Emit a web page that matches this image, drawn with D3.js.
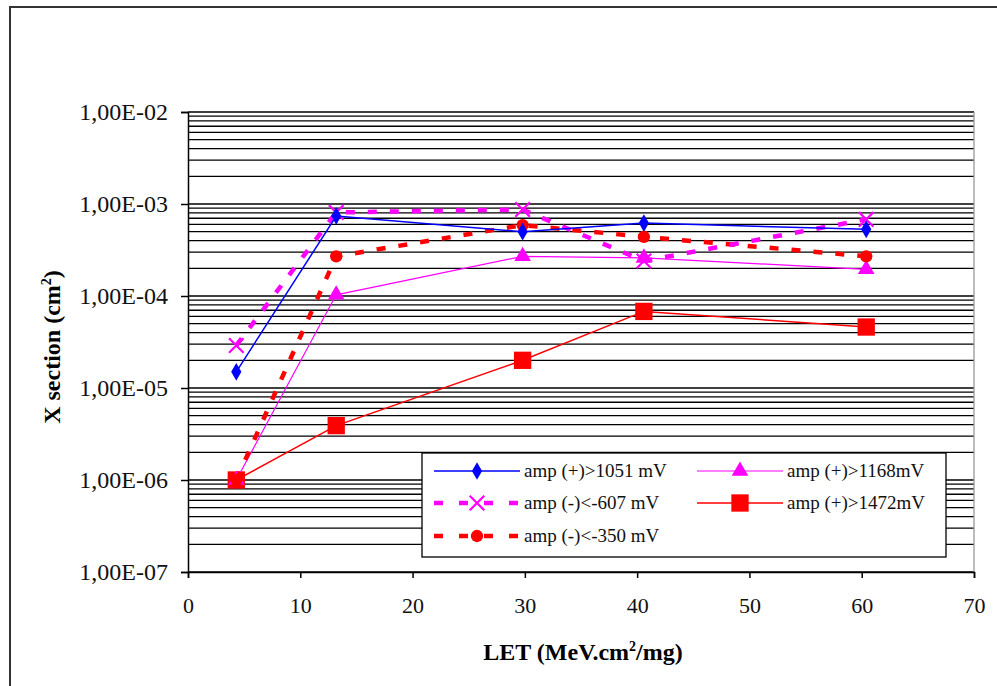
<!DOCTYPE html>
<html>
<head>
<meta charset="utf-8">
<script src="https://cdn.jsdelivr.net/npm/d3@7"></script>
<style>
  body { margin: 0; background: #fff; }
  svg text { font-family: "Liberation Serif", "Times New Roman", Times, "DejaVu Serif", serif !important; }
</style>
</head>
<body>
<script>
// LET values (x) shared by all series
var let_x = [4.3, 13.2, 29.8, 40.6, 60.4];

var amp1051 = [1.5e-5, 7.4e-4, 5.0e-4, 6.2e-4, 5.3e-4];
var amp607  = [2.9e-5, 8.1e-4, 8.7e-4, 2.4e-4, 6.8e-4];
var amp350  = [1.0e-6, 2.7e-4, 5.9e-4, 4.4e-4, 2.7e-4];
var amp1168 = [1.0e-6, 1.03e-4, 2.7e-4, 2.6e-4, 1.95e-4];
var amp1472 = [1.0e-6, 3.9e-6, 2.0e-5, 6.8e-5, 4.6e-5];

var xTicks = [0, 10, 20, 30, 40, 50, 60, 70];
var yTicks = [1e-7, 1e-6, 1e-5, 1e-4, 1e-3, 1e-2];

var series = [
  {name: 'amp (+)>1051 mV', vals: amp1051, color: '#0000ff', width: 1.5, dash: null,  sym: 'diamond'},
  {name: 'amp (-)<-607 mV', vals: amp607,  color: '#ff00ff', width: 4.5, dash: '9,13', sym: 'x'},
  {name: 'amp (-)<-350 mV', vals: amp350,  color: '#ff0000', width: 4.5, dash: '9,13', sym: 'circle'},
  {name: 'amp (+)>1168mV',  vals: amp1168, color: '#ff00ff', width: 1.2, dash: null,  sym: 'triangle'},
  {name: 'amp (+)>1472mV',  vals: amp1472, color: '#ff0000', width: 1.5, dash: null,  sym: 'square'}
];

function main(){
    var W = 997, H = 686;
    var m = {left: 188, top: 112, right: 974, bottom: 572};

    var svg = d3.select('body').append('svg')
        .attr('width', W).attr('height', H);

    // outer frame
    svg.append('rect')
        .attr('x', 10).attr('y', 7)
        .attr('width', 1000).attr('height', 700)
        .attr('fill', 'none').attr('stroke', '#333').attr('stroke-width', 2);

    var x = d3.scaleLinear().domain([0, 70]).range([m.left, m.right]);
    var y = d3.scaleLog().domain([1e-7, 1e-2]).range([m.bottom, m.top]);

    // gridlines (major + minor)
    svg.append('g').selectAll('line')
        .data(y.ticks())
        .enter().append('line')
        .attr('x1', m.left).attr('x2', m.right)
        .attr('y1', function(d){ return y(d); })
        .attr('y2', function(d){ return y(d); })
        .attr('stroke', '#000').attr('stroke-width', 1.3);

    // right border of plot area
    svg.append('line')
        .attr('x1', m.right).attr('x2', m.right)
        .attr('y1', m.top).attr('y2', m.bottom)
        .attr('stroke', '#999').attr('stroke-width', 1.3);

    // axes
    var fmt = function(d){
        var e = Math.round(Math.log10(d));
        return '1,00E' + (e < 0 ? '-' : '+') + String(Math.abs(e)).padStart(2, '0');
    };
    var yAxis = svg.append('g')
        .attr('transform', 'translate(' + m.left + ',0)')
        .call(d3.axisLeft(y).tickValues(yTicks).tickFormat(fmt).tickSize(7).tickPadding(13));
    var xAxis = svg.append('g')
        .attr('transform', 'translate(0,' + m.bottom + ')')
        .call(d3.axisBottom(x).tickValues(xTicks).tickFormat(d3.format('d')).tickSize(6).tickPadding(19));

    [yAxis, xAxis].forEach(function(a){
        a.select('.domain').attr('stroke', '#000').attr('stroke-width', 1.5);
        a.selectAll('.tick line').attr('stroke', '#000').attr('stroke-width', 1.5);
        a.selectAll('.tick text').attr('fill', '#111');
    });
    yAxis.selectAll('.tick text').attr('font-size', 24);
    xAxis.selectAll('.tick text').attr('font-size', 22);

    // axis titles
    svg.append('text')
        .attr('x', 583).attr('y', 660)
        .attr('text-anchor', 'middle')
        .attr('font-size', 24).attr('font-weight', 'bold')
        .html('LET (MeV.cm<tspan font-size="14" dy="-9">2</tspan><tspan dy="9">/mg)</tspan>');

    svg.append('text')
        .attr('transform', 'translate(60,347) rotate(-90)')
        .attr('text-anchor', 'middle')
        .attr('font-size', 24).attr('font-weight', 'bold')
        .html('X section (cm<tspan font-size="14" dy="-9">2</tspan><tspan dy="9">)</tspan>');

    var symType = {
        diamond: d3.symbolDiamond, circle: d3.symbolCircle,
        triangle: d3.symbolTriangle, square: d3.symbolSquare, x: d3.symbolTimes
    };
    var symSize = {diamond: 90, circle: 120, triangle: 120, square: 300, x: 140};

    function drawMarker(g, s, cx, cy){
        if (s.sym === 'x') {
            g.append('path')
                .attr('d', d3.symbol().type(d3.symbolTimes).size(symSize.x)())
                .attr('transform', 'translate(' + cx + ',' + cy + ')')
                .attr('fill', 'none').attr('stroke', s.color).attr('stroke-width', 2.2);
        } else {
            g.append('path')
                .attr('d', d3.symbol().type(symType[s.sym]).size(symSize[s.sym])())
                .attr('transform', 'translate(' + cx + ',' + cy + ')')
                .attr('fill', s.color);
        }
    }

    var line = d3.line()
        .x(function(d){ return x(d[0]); })
        .y(function(d){ return y(d[1]); });

    // draw back to front so blue sits over dashes
    var order = [4, 3, 2, 1, 0];
    order.forEach(function(i){
        var s = series[i];
        var pts = d3.zip(let_x, s.vals);
        var g = svg.append('g');
        g.append('path')
            .attr('d', line(pts))
            .attr('fill', 'none')
            .attr('stroke', s.color)
            .attr('stroke-width', s.width)
            .attr('stroke-dasharray', s.dash);
        pts.forEach(function(p){ drawMarker(g, s, x(p[0]), y(p[1])); });
    });

    // legend
    var lg = svg.append('g');
    lg.append('rect')
        .attr('x', 422).attr('y', 453)
        .attr('width', 524).attr('height', 104)
        .attr('fill', '#fff').attr('stroke', '#000').attr('stroke-width', 1.3);

    var legPos = [
        {x: 434, y: 471}, {x: 434, y: 503}, {x: 434, y: 536},
        {x: 697, y: 471}, {x: 697, y: 503}
    ];
    series.forEach(function(s, i){
        var p = legPos[i];
        lg.append('line')
            .attr('x1', p.x).attr('x2', p.x + 86)
            .attr('y1', p.y).attr('y2', p.y)
            .attr('stroke', s.color)
            .attr('stroke-width', s.dash ? 4.5 : s.width)
            .attr('stroke-dasharray', s.dash ? '9,16' : null);
        drawMarker(lg, s, p.x + 43, p.y);
        lg.append('text')
            .attr('x', p.x + 90).attr('y', p.y + 6)
            .attr('font-size', 19).attr('fill', '#111')
            .text(s.name);
    });
}

main();
</script>
</body>
</html>
